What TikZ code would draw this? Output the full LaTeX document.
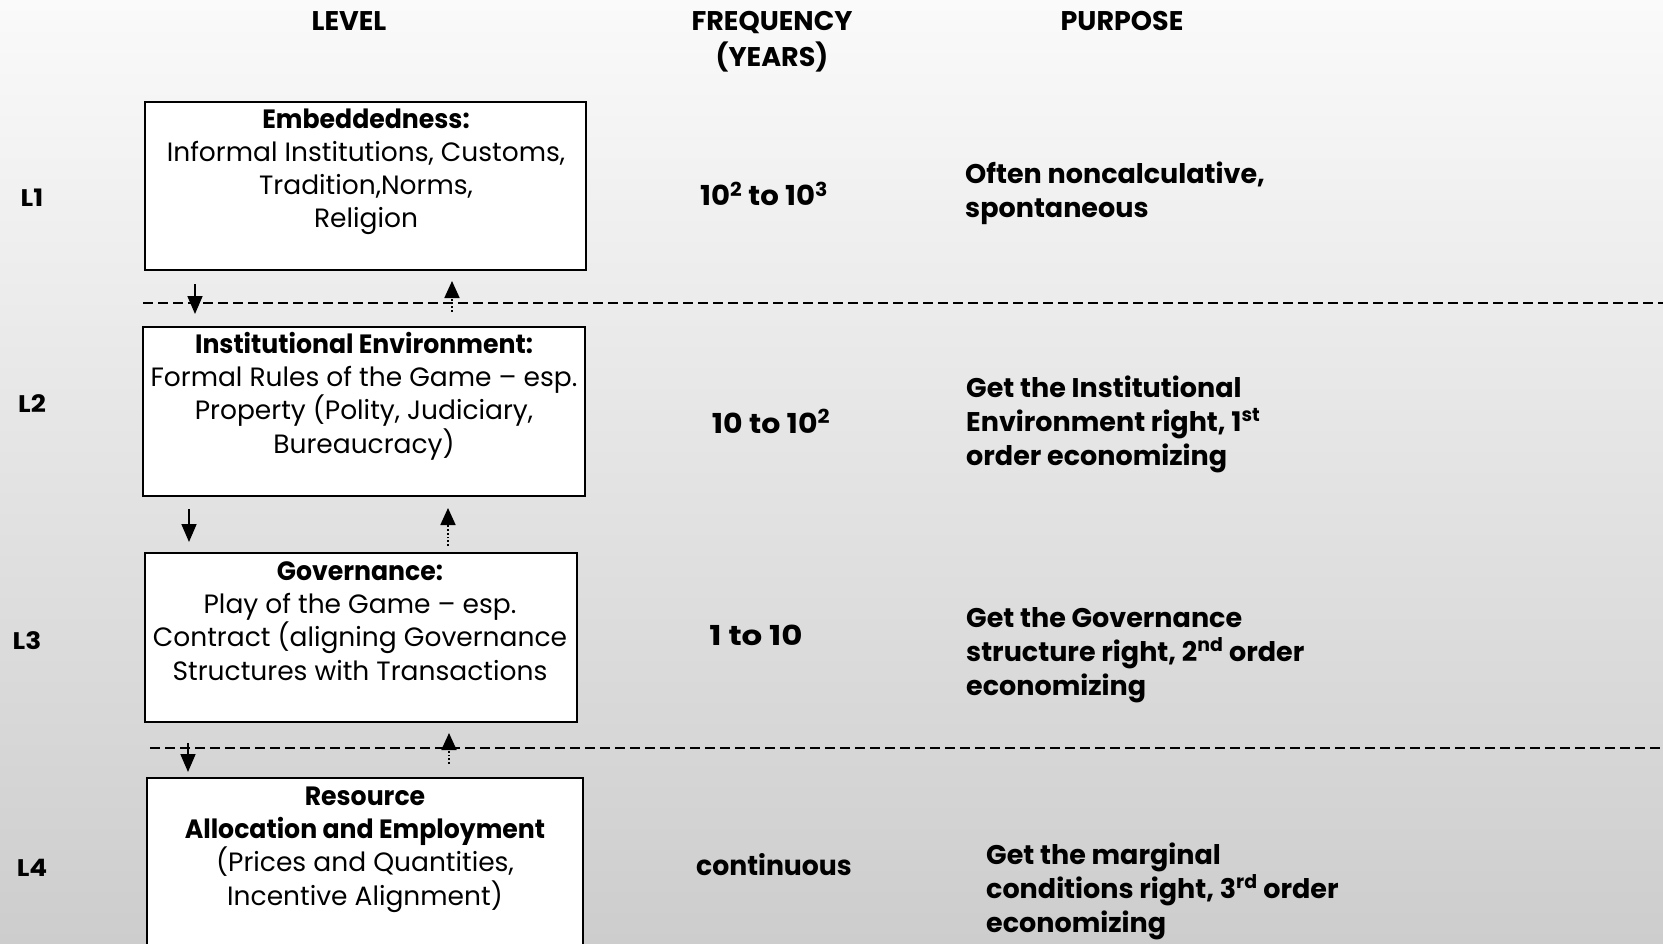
\documentclass[tikz,border=0pt]{standalone}
\usepackage{fontspec}
\setmainfont{Poppins}
\usepackage{graphicx}
\usetikzlibrary{arrows.meta,calc}
\definecolor{bgtop}{HTML}{FAFAFA}
\definecolor{bgmid}{HTML}{EBEBEB}
\definecolor{bgbot}{HTML}{CDCDCD}
\newcommand{\sx}[2]{\scalebox{#1}[1]{#2}}
\newcommand{\bb}[1]{\scalebox{0.95}[1]{\textbf{#1}}}
\begin{document}
\begin{tikzpicture}[x=1pt,y=-1pt,
  box/.style={draw=black, line width=2pt, fill=white, inner sep=0pt},
  boxtxt/.style={align=center, inner sep=0pt, font=\fontsize{26.5}{33.3}\selectfont},
  hdr/.style={inner sep=0pt, font=\fontsize{27}{36}\selectfont\bfseries, align=center},
  lvl/.style={inner sep=0pt, font=\fontsize{24}{26}\selectfont\bfseries},
  freq/.style={inner sep=0pt, font=\fontsize{27.5}{30}\selectfont\bfseries},
  purp/.style={inner sep=0pt, align=left, font=\fontsize{27}{34}\selectfont\bfseries},
  darr/.style={line width=1.8pt, -{Triangle[length=18pt,width=15pt]}},
  uarr/.style={line width=1.8pt, dotted, -{Triangle[length=17pt,width=15pt]}},
  sep/.style={line width=2pt, dash pattern=on 10pt off 5pt}]
\useasboundingbox (0,0) rectangle (1663,944);
\shade[top color=bgtop, middle color=bgmid, bottom color=bgbot] (0,0) rectangle (1663,944);

% headers
\node[hdr, anchor=base] (hlevel) at (349,31) {LEVEL};
\node[hdr, anchor=base] (hfreq) at (772,67) {FREQUENCY\\(YEARS)};
\node[hdr, anchor=base] (hpurp) at (1122,31) {PURPOSE};

% boxes
\node[box, minimum width=441pt, minimum height=168pt] (b1) at (365.5,186) {};
\node[box, minimum width=442pt, minimum height=169pt] (b2) at (364,411.5) {};
\node[box, minimum width=432pt, minimum height=169pt] (b3) at (361,637.5) {};
\node[box, minimum width=436pt, minimum height=169pt] (b4) at (365,862.5) {};

\node[boxtxt, anchor=base] (b1t) at (366,228) {\bb{Embeddedness:}\\Informal Institutions, Customs,\\Tradition,Norms,\\Religion};
\node[boxtxt, anchor=base] (b2t) at (364,453) {\bb{Institutional Environment:}\\Formal Rules of the Game – esp.\\Property (Polity, Judiciary,\\Bureaucracy)};
\node[boxtxt, anchor=base] (b3t) at (360,680) {\bb{Governance:}\\Play of the Game – esp.\\Contract (aligning Governance\\Structures with Transactions};
\node[boxtxt, anchor=base] (b4t) at (365,905) {\bb{Resource}\\\bb{Allocation and Employment}\\(Prices and Quantities,\\Incentive Alignment)};

% level labels
\node[lvl, anchor=base] (l1) at (32,207) {\sx{1.1}{L1}};
\node[lvl, anchor=base] (l2) at (32,412) {\sx{1.1}{L2}};
\node[lvl, anchor=base] (l3) at (27,649) {\sx{1.1}{L3}};
\node[lvl, anchor=base] (l4) at (32,876) {\sx{1.1}{L4}};

% frequency
\node[freq, anchor=base] (f1) at (764,206) {\sx{1.06}{10\textsuperscript{2} to 10\textsuperscript{3}}};
\node[freq, anchor=base] (f2) at (771,433) {\sx{1.09}{10 to 10\textsuperscript{2}}};
\node[freq, anchor=base] (f3) at (756,645) {\sx{1.18}{1 to 10}};
\node[freq, anchor=base] (f4) at (774,875) {\sx{0.97}{continuous}};

% purpose
\node[purp, anchor=base west] (p1) at (965,218) {Often noncalculative,\\spontaneous};
\node[purp, anchor=base west] (p2) at (966,465) {Get the Institutional\\Environment right, 1\textsuperscript{st}\\order economizing};
\node[purp, anchor=base west] (p3) at (966,695) {Get the Governance\\structure right, 2\textsuperscript{nd} order\\economizing};
\node[purp, anchor=base west] (p4) at (986,932) {Get the marginal\\conditions right, 3\textsuperscript{rd} order\\economizing};

% separators
\coordinate (s1a) at (143,303);
\coordinate (s1b) at (1663,303);
\coordinate (s2a) at (150,748);
\coordinate (s2b) at (1663,748);
\draw[sep] (s1a) -- (s1b);
\draw[sep] (s2a) -- (s2b);

% arrows
\coordinate (ad1) at (195,0);
\coordinate (au1) at (452,0);
\coordinate (ad2) at (189,0);
\coordinate (au2) at (448,0);
\coordinate (ad3) at (188,0);
\coordinate (au3) at (449,0);
\draw[darr, shorten <=13pt, shorten >=12pt] (b1.south -| ad1) -- (b2.north -| ad1);
\draw[uarr, shorten <=14pt, shorten >=10pt] (b2.north -| au1) -- (b1.south -| au1);
\draw[darr, shorten <=12pt, shorten >=10pt] (b2.south -| ad2) -- (b3.north -| ad2);
\draw[uarr, shorten <=6pt, shorten >=11pt] (b3.north -| au2) -- (b2.south -| au2);
\draw[darr, shorten <=20pt, shorten >=5pt] (b3.south -| ad3) -- (b4.north -| ad3);
\draw[uarr, shorten <=13pt, shorten >=10pt] (b4.north -| au3) -- (b3.south -| au3);
\end{tikzpicture}
\end{document}
